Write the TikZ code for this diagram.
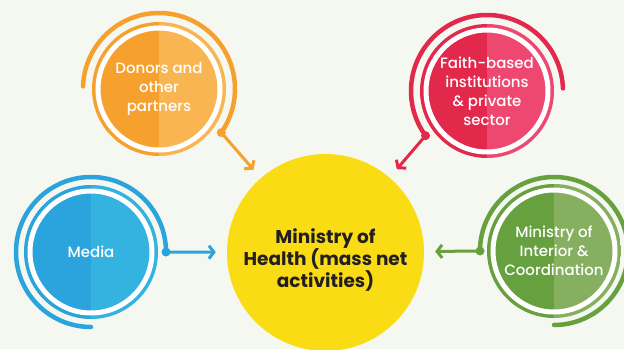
\documentclass[tikz,border=0pt]{standalone}
\usepackage{fontspec}
\setmainfont{Poppins}
\newfontfamily\partfont{Poppins Medium}
\usetikzlibrary{arrows.meta,calc}

\definecolor{bg}{HTML}{F5F8F1}
\definecolor{hubfill}{HTML}{FADC14}
\definecolor{hubtext}{HTML}{231F20}
\definecolor{orA}{HTML}{F6A12D}
\definecolor{orB}{HTML}{F9B552}
\definecolor{rdA}{HTML}{E3294B}
\definecolor{rdB}{HTML}{EE4870}
\definecolor{blA}{HTML}{2BA3DC}
\definecolor{blB}{HTML}{34B3E0}
\definecolor{gnA}{HTML}{66A03F}
\definecolor{gnB}{HTML}{86B05F}

\begin{document}
\begin{tikzpicture}[x=1pt,y=1pt,
  hub/.style = {circle, fill=hubfill, minimum size=197pt, inner sep=0pt},
  hubtxt/.style = {align=center, text=hubtext, font=\fontsize{18.5}{22}\selectfont\bfseries},
  part/.style 2 args = {circle, minimum size=134pt, inner sep=0pt, align=center, text=white,
    font=\partfont\fontsize{15}{19}\selectfont,
    path picture={\fill[#1] (path picture bounding box.south west) rectangle (path picture bounding box.north);
      \fill[#2] (path picture bounding box.south) rectangle (path picture bounding box.north east);}},
  gap/.style = {draw=white, line width=5pt},
  outer/.style = {line width=4.5pt, line cap=round},
  link/.style = {line width=3pt, -{Straight Barb[length=5pt,width=13pt]}, shorten >=11pt}]
\useasboundingbox (0,0) rectangle (624,349);
\fill[bg] (0,0) rectangle (624,349);
\clip (0,0) rectangle (624,349);

% centre and the four partners
\node[hub] (0) at (325.5,96.5) {};
\node[hubtxt] (0t) at (325.5,89) {Ministry of\\Health (mass net\\activities)};
\node[part={orA}{orB}] (1) at (159,260) {Donors and\\other\\partners};
\node[part={rdA}{rdB}] (2) at (487,258) {Faith-based\\institutions\\\& private\\sector};
\node[part={blA}{blB}] (3) at (91,97) {Media};
\node[part={gnA}{gnB}] (4) at (554,98) {Ministry of\\Interior \&\\Coordination};

% white rings inside
\draw[gap] (1.center) circle (61);
\draw[gap] (2.center) circle (61);
\draw[gap] (3.center) circle (61);
\draw[gap] (4.center) circle (61);

% outer swirls, ending in a dot
\draw[outer, orA] ($(1)+(178:76)$) arc[start angle=178, end angle=-35, radius=76] coordinate (d1);
\draw[outer, rdA] ($(2)+(2:76)$) arc[start angle=2, end angle=216, radius=76] coordinate (d2);
\draw[outer, blA] ($(3)+(270:75)$) arc[start angle=270, end angle=0, radius=75] coordinate (d3);
\draw[outer, gnA] ($(4)+(-90:74)$) arc[start angle=-90, end angle=180, radius=74] coordinate (d4);
\fill[orA] (d1) circle (4.5);
\fill[rdA] (d2) circle (4.5);
\fill[blA] (d3) circle (4.5);
\fill[gnA] (d4) circle (4.5);

% arrows into the centre
\draw[link, orA] (d1) -- (0);
\draw[link, rdA] (d2) -- (0);
\draw[link, blA] (d3) -- (0);
\draw[link, gnA] (d4) -- (0);
\end{tikzpicture}
\end{document}
